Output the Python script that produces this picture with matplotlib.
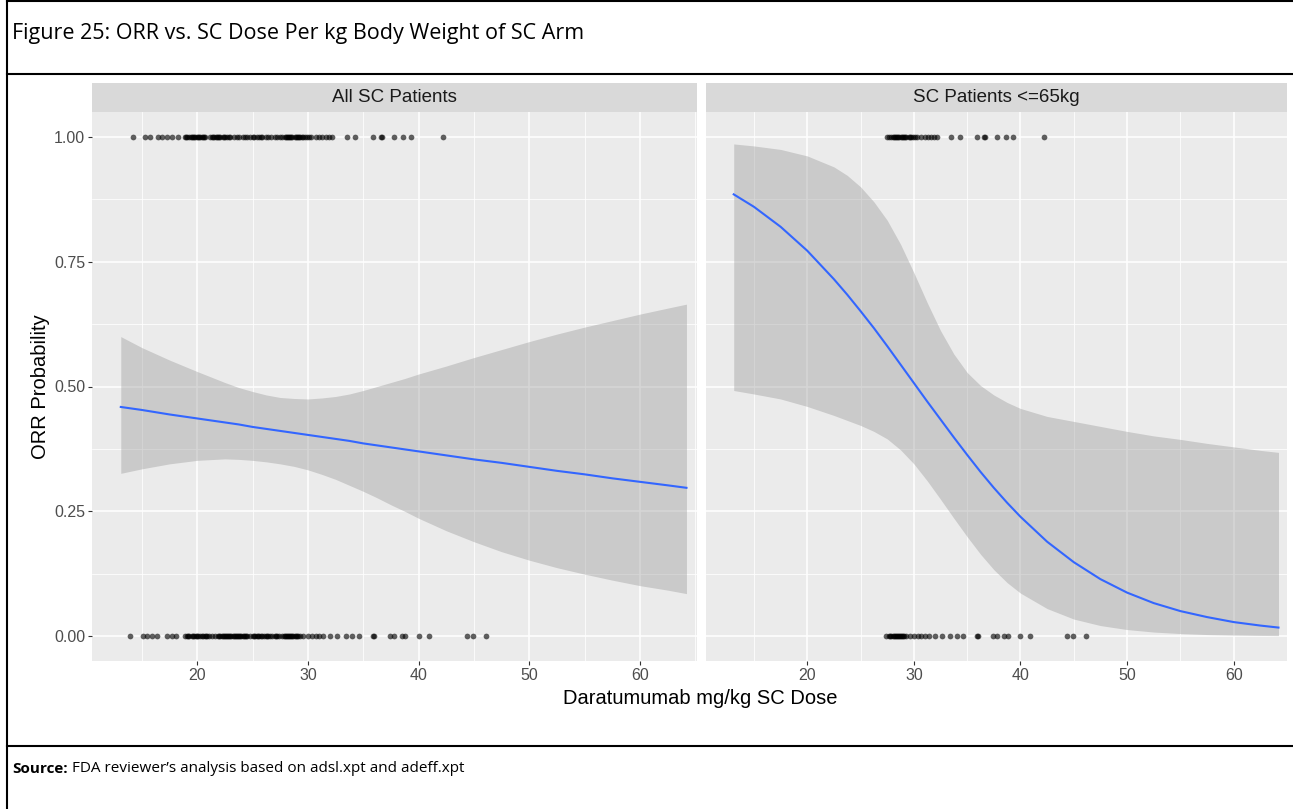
import matplotlib
matplotlib.use("Agg")
import matplotlib.pyplot as plt
from matplotlib.lines import Line2D
import numpy as np

# Daratumumab SC dose per kg for responders (ORR = 1) and non-responders (ORR = 0)
dose_responders = [
    14.2, 15.3, 15.7, 16.5, 16.8, 17.3, 17.7, 18.3,
    18.9, 19.0, 19.1, 19.3, 19.4, 19.5, 19.6, 19.7, 19.8, 20.0, 20.1, 20.2,
    20.3, 20.4, 20.5, 20.6, 20.7,
    21.2, 21.3, 21.4, 21.5, 21.7, 21.8, 21.9, 22.0, 22.1, 22.3, 22.4, 22.5,
    22.7, 22.9,
    23.0, 23.3, 23.6, 23.8, 24.1, 24.3, 24.5,
    24.8, 25.0, 25.1, 25.4, 25.6, 25.8, 25.9, 26.2, 26.4, 26.7, 27.0, 27.2,
    27.5, 27.7, 27.9, 28.0, 28.1, 28.2, 28.3, 28.4, 28.5, 28.6, 28.8, 28.9,
    29.0, 29.1, 29.2, 29.3, 29.5, 29.6, 29.7, 29.9, 30.1, 30.3,
    30.7, 31.0, 31.3, 31.6, 31.9, 32.2,
    33.5, 34.3, 35.9, 36.6, 36.7, 37.8, 38.6, 39.3, 42.2,
]
dose_nonresponders = [
    13.9, 15.1, 15.5, 15.9, 16.4, 17.3, 17.7, 18.1,
    18.9, 19.1, 19.2, 19.3, 19.5, 19.6, 19.7, 19.9, 20.0, 20.1, 20.3, 20.4,
    20.5, 20.7, 20.8, 20.9, 21.1, 21.3, 21.6,
    21.9, 22.0, 22.1, 22.2, 22.3, 22.4, 22.5, 22.6, 22.7, 22.8, 22.9, 23.0,
    23.1, 23.2, 23.3, 23.4, 23.5, 23.6, 23.7, 23.8, 23.9, 24.0, 24.1, 24.2,
    24.3, 24.4, 24.5,
    24.8, 25.0, 25.1, 25.2, 25.4, 25.5, 25.6, 25.8, 25.9, 26.0, 26.2, 26.3,
    26.4, 26.6, 26.8, 27.0, 27.1, 27.2, 27.4, 27.7, 27.8, 27.9, 28.0, 28.1,
    28.2, 28.3, 28.4, 28.5, 28.6, 28.7, 28.8, 28.9, 29.0, 29.1, 29.3,
    29.6, 30.0, 30.4, 30.7, 31.0, 31.4, 32.0,
    32.6, 33.4, 34.0, 34.6, 35.9, 36.0, 37.4, 37.8, 38.5, 38.8, 40.0, 40.9,
    44.4, 44.9, 46.1,
]
# patients <= 65 kg get at least this dose per kg with the flat SC dose
dose_cutoff_65kg = 27.4

# logistic fit with 95% band, read on a dose grid
fit_dose = [13.1, 15, 17.5, 20, 22.5, 23.75, 25, 26.25, 27.5, 28.75, 30,
            31.25, 32.5, 33.75, 35, 36.25, 37.5, 38.75, 40, 42.5, 45, 47.5,
            50, 52.5, 55, 57.5, 60, 62.5, 64.2]
fit_all = [.459, .453, .444, .436, .428, .424, .419, .415, .411, .407, .403,
           .399, .395, .391, .386, .382, .378, .374, .370, .362, .354, .347,
           .339, .331, .324, .316, .309, .302, .297]
fit_all_hi = [.600, .578, .553, .530, .508, .498, .490, .483, .478, .476, .475,
              .477, .480, .485, .492, .500, .508, .516, .525, .541, .558, .574,
              .590, .605, .619, .632, .645, .657, .665]
fit_all_lo = [.326, .335, .345, .352, .355, .354, .352, .349, .345, .340, .333,
              .324, .314, .302, .290, .277, .263, .250, .236, .211, .189, .169,
              .152, .137, .124, .112, .101, .092, .085]
fit_65 = [.885, .860, .820, .772, .715, .684, .651, .617, .581, .544, .507,
          .470, .434, .398, .363, .329, .297, .267, .239, .189, .148, .114,
          .087, .066, .050, .038, .028, .021, .017]
fit_65_hi = [.986, .982, .975, .962, .940, .923, .900, .870, .833, .785, .728,
             .668, .612, .565, .528, .502, .483, .468, .456, .440, .430, .420,
             .410, .401, .394, .386, .379, .372, .368]
fit_65_lo = [.492, .485, .475, .460, .442, .432, .422, .410, .395, .373, .345,
             .311, .274, .236, .199, .164, .133, .107, .086, .055, .034, .021,
             .013, .008, .005, .003, .002, .0012, .0009]

panel_titles = ["All SC Patients", "SC Patients <=65kg"]
x_ticks = [20, 30, 40, 50, 60]
y_ticks = [0.0, 0.25, 0.5, 0.75, 1.0]
y_ticklabels = ["0.00", "0.25", "0.50", "0.75", "1.00"]

W, H = 1293, 809
fig = plt.figure(figsize=(W / 100, H / 100), dpi=100)
fig.patch.set_facecolor("white")

px_per_unit = 11.07
x0 = 10.5


def fig_box(left, top, right, bottom):
    return [left / W, 1 - bottom / H, (right - left) / W, (bottom - top) / H]


def draw_panel(ax, title_ax, title, dose1, dose0, fit, lo, hi, show_y):
    ax.set_facecolor("#EBEBEB")
    for s in ax.spines.values():
        s.set_visible(False)
    ax.fill_between(fit_dose, lo, hi, color="#999999", alpha=0.4, lw=0, zorder=2)
    ax.plot(fit_dose, fit, color="#3366FF", lw=1.5, zorder=3)
    ax.scatter(dose1, np.ones(len(dose1)), s=17, color="black", alpha=0.62,
               lw=0, zorder=4)
    ax.scatter(dose0, np.zeros(len(dose0)), s=17, color="black", alpha=0.62,
               lw=0, zorder=4)
    ax.set_ylim(-0.05, 1.05)
    ax.set_xticks(x_ticks)
    ax.set_xticks([15, 25, 35, 45, 55, 65], minor=True)
    ax.set_yticks(y_ticks)
    ax.set_yticks([0.125, 0.375, 0.625, 0.875], minor=True)
    ax.grid(True, which="major", color="white", lw=1.1, zorder=1)
    ax.grid(True, which="minor", color="white", lw=0.55, zorder=1)
    ax.set_axisbelow(True)
    ax.tick_params(which="major", length=3, width=0.8, color="#333333",
                   labelsize=11.5, labelcolor="#4D4D4D", pad=2)
    ax.tick_params(which="minor", length=0)
    if show_y:
        ax.set_yticklabels(y_ticklabels)
    else:
        ax.tick_params(axis="y", which="major", length=0, labelleft=False)
    for lab in ax.get_xticklabels() + ax.get_yticklabels():
        lab.set_family("Liberation Sans")

    title_ax.set_facecolor("#D9D9D9")
    title_ax.set_xticks([])
    title_ax.set_yticks([])
    for s in title_ax.spines.values():
        s.set_visible(False)
    title_ax.text(0.5, 0.5, title, ha="center", va="center", fontsize=13.5,
                  color="#1A1A1A", family="Liberation Sans",
                  transform=title_ax.transAxes)


# left facet: all patients
ax1 = fig.add_axes(fig_box(92, 112, 697, 661))
s1 = fig.add_axes(fig_box(92, 83, 697, 112))
ax1.set_xlim(x0, x0 + 605 / px_per_unit)
draw_panel(ax1, s1, panel_titles[0], dose_responders, dose_nonresponders,
           fit_all, fit_all_lo, fit_all_hi, True)

# right facet: patients <= 65 kg
dose1_65 = [d for d in dose_responders if d >= dose_cutoff_65kg]
dose0_65 = [d for d in dose_nonresponders if d >= dose_cutoff_65kg]
ax2 = fig.add_axes(fig_box(706, 112, 1287, 661))
s2 = fig.add_axes(fig_box(706, 83, 1287, 112))
ax2.set_xlim(x0, x0 + 581 / px_per_unit)
draw_panel(ax2, s2, panel_titles[1], dose1_65, dose0_65,
           fit_65, fit_65_lo, fit_65_hi, False)

fig.text(700 / W, 1 - 699 / H, "Daratumumab mg/kg SC Dose", ha="center",
         va="center", fontsize=14.5, color="black", family="Liberation Sans")
fig.text(40 / W, 1 - 387 / H, "ORR Probability", ha="center", va="center",
         rotation=90, fontsize=14.5, color="black", family="Liberation Sans")

# table frame around the figure
for xs, ys in [([7, 7], [0, H]), ([7, W], [1, 1]), ([7, W], [74, 74]),
               ([7, W], [746, 746])]:
    fig.add_artist(Line2D([x / W for x in xs], [1 - y / H for y in ys],
                          color="black", lw=1.5, transform=fig.transFigure))

fig.text(12 / W, 1 - 34 / H,
         "Figure 25: ORR vs. SC Dose Per kg Body Weight of SC Arm",
         ha="left", va="center", fontsize=15.5, family="Open Sans")

src = fig.text(12 / W, 1 - 769 / H, "Source:", ha="left", va="center",
               fontsize=11, fontweight="bold", family="Open Sans")
fig.canvas.draw()
bb = src.get_window_extent(fig.canvas.get_renderer())
fig.text(bb.x1 / W + 4 / W, 1 - 769 / H,
         "FDA reviewer\u2019s analysis based on adsl.xpt and adeff.xpt",
         ha="left", va="center", fontsize=11, family="Open Sans")

fig.savefig("out.png", dpi=100)
